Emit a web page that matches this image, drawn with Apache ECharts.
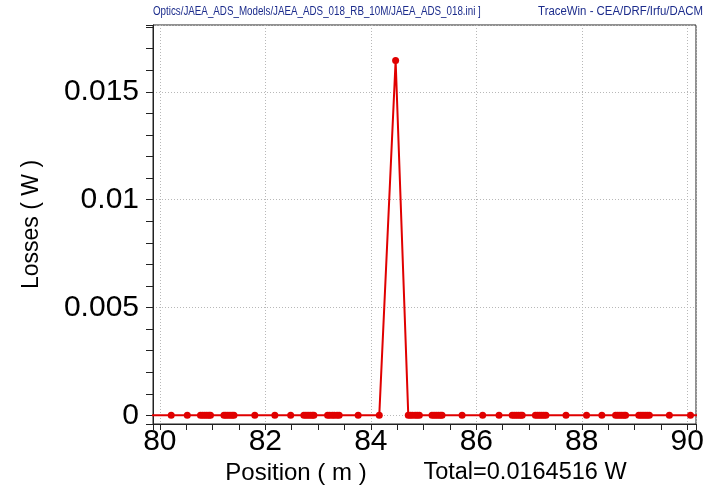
<!DOCTYPE html>
<html>
<head>
<meta charset="utf-8">
<script src="https://cdn.jsdelivr.net/npm/echarts@6/dist/echarts.min.js"></script>
<style>
html,body{margin:0;padding:0;background:#fff;}
#chart{width:707px;height:495px;}
</style>
</head>
<body>
<div id="chart"></div>
<script>
// ---- data ----
const positions = [79.80, 80.215, 80.52, 80.77, 80.81, 80.85, 80.89, 80.93, 80.96,
  81.215, 81.25, 81.29, 81.33, 81.37, 81.405, 81.80, 82.18, 82.48,
  82.73, 82.77, 82.81, 82.85, 82.89, 82.92, 83.18, 83.22, 83.27, 83.31, 83.36, 83.40,
  83.76, 84.16, 84.47, 84.71, 84.75, 84.79, 84.84, 84.88, 84.92,
  85.16, 85.20, 85.24, 85.28, 85.32, 85.35, 85.73, 86.12, 86.43,
  86.68, 86.72, 86.76, 86.80, 86.84, 86.87, 87.12, 87.16, 87.20, 87.24, 87.28, 87.32,
  87.70, 88.09, 88.38, 88.64, 88.68, 88.72, 88.76, 88.80, 88.83,
  89.08, 89.12, 89.16, 89.20, 89.24, 89.28, 89.66, 90.06, 90.36];
const losses = [0, 0, 0, 0, 0, 0, 0, 0, 0,
  0, 0, 0, 0, 0, 0, 0, 0, 0,
  0, 0, 0, 0, 0, 0, 0, 0, 0, 0, 0, 0,
  0, 0, 0.0164516, 0, 0, 0, 0, 0, 0,
  0, 0, 0, 0, 0, 0, 0, 0, 0,
  0, 0, 0, 0, 0, 0, 0, 0, 0, 0, 0, 0,
  0, 0, 0, 0, 0, 0, 0, 0, 0,
  0, 0, 0, 0, 0, 0, 0, 0, 0];
const headerLeft = 'Optics/JAEA_ADS_Models/JAEA_ADS_018_RB_10M/JAEA_ADS_018.ini ]';
const headerRight = 'TraceWin - CEA/DRF/Irfu/DACM';
const xName = 'Position ( m )';
const yName = 'Losses ( W )';
const totalText = 'Total=0.0164516 W';

const points = positions.map((p, i) => [p, losses[i]]);
const FONT = '"Liberation Sans", Arial, sans-serif';
const HEAD = {fontFamily: FONT, fontSize: 12, fill: '#1c2c8c'};

const chart = echarts.init(document.getElementById('chart'), null, {renderer: 'canvas'});
chart.setOption({
  backgroundColor: '#ffffff',
  animation: false,
  graphic: [
    {type: 'text', x: 153, y: 6, scaleX: 0.815, style: Object.assign({text: headerLeft, textAlign: 'left', textVerticalAlign: 'top'}, HEAD)},
    {type: 'text', x: 703, y: 6, scaleX: 0.95, style: Object.assign({text: headerRight, textAlign: 'right', textVerticalAlign: 'top'}, HEAD)},
    {type: 'text', x: 296, y: 473, style: {text: xName, fontFamily: FONT, fontSize: 24, fill: '#000', textAlign: 'center', textVerticalAlign: 'middle'}},
    {type: 'text', x: 525, y: 473, style: {text: totalText, fontFamily: FONT, fontSize: 23.5, fill: '#000', textAlign: 'center', textVerticalAlign: 'middle'}}
  ],
  grid: {left: 153, right: 11, top: 25, bottom: 71, show: true, borderColor: '#222', borderWidth: 1, backgroundColor: '#fff'},
  xAxis: {
    type: 'value', min: 79.87, max: 90.165, splitNumber: 5, minInterval: 2, maxInterval: 2,
    axisLine: {show: true, onZero: false, lineStyle: {color: '#222', width: 1}},
    axisTick: {show: true, inside: false, length: 6, lineStyle: {color: '#222'}},
    minorTick: {show: true, splitNumber: 4, length: 6, lineStyle: {color: '#222'}},
    axisLabel: {show: true, showMinLabel: false, showMaxLabel: false, margin: 3, fontFamily: FONT, fontSize: 30, color: '#000'},
    splitLine: {show: true, lineStyle: {color: '#b8b8b8', type: [1, 2], width: 1}}
  },
  yAxis: {
    type: 'value', min: -0.0004, max: 0.0181, splitNumber: 4, minInterval: 0.005, maxInterval: 0.005,
    name: yName, nameLocation: 'middle', nameGap: 110, nameRotate: 90,
    nameTextStyle: {fontFamily: FONT, fontSize: 23, color: '#000'},
    axisLine: {show: true, lineStyle: {color: '#222', width: 1}},
    axisTick: {show: true, inside: false, length: 7, lineStyle: {color: '#222'}},
    minorTick: {show: true, splitNumber: 5, length: 7, lineStyle: {color: '#222'}},
    axisLabel: {show: true, showMinLabel: false, showMaxLabel: false, margin: 14, fontFamily: FONT, fontSize: 30, color: '#000',
      formatter: v => String(+v.toFixed(4))},
    splitLine: {show: true, lineStyle: {color: '#b8b8b8', type: [1, 2], width: 1}}
  },
  series: [{
    type: 'line', data: points, clip: true,
    symbol: 'circle', symbolSize: 7, showSymbol: true,
    lineStyle: {color: '#e00000', width: 2},
    itemStyle: {color: '#e00000'}
  }]
});
</script>
</body>
</html>
